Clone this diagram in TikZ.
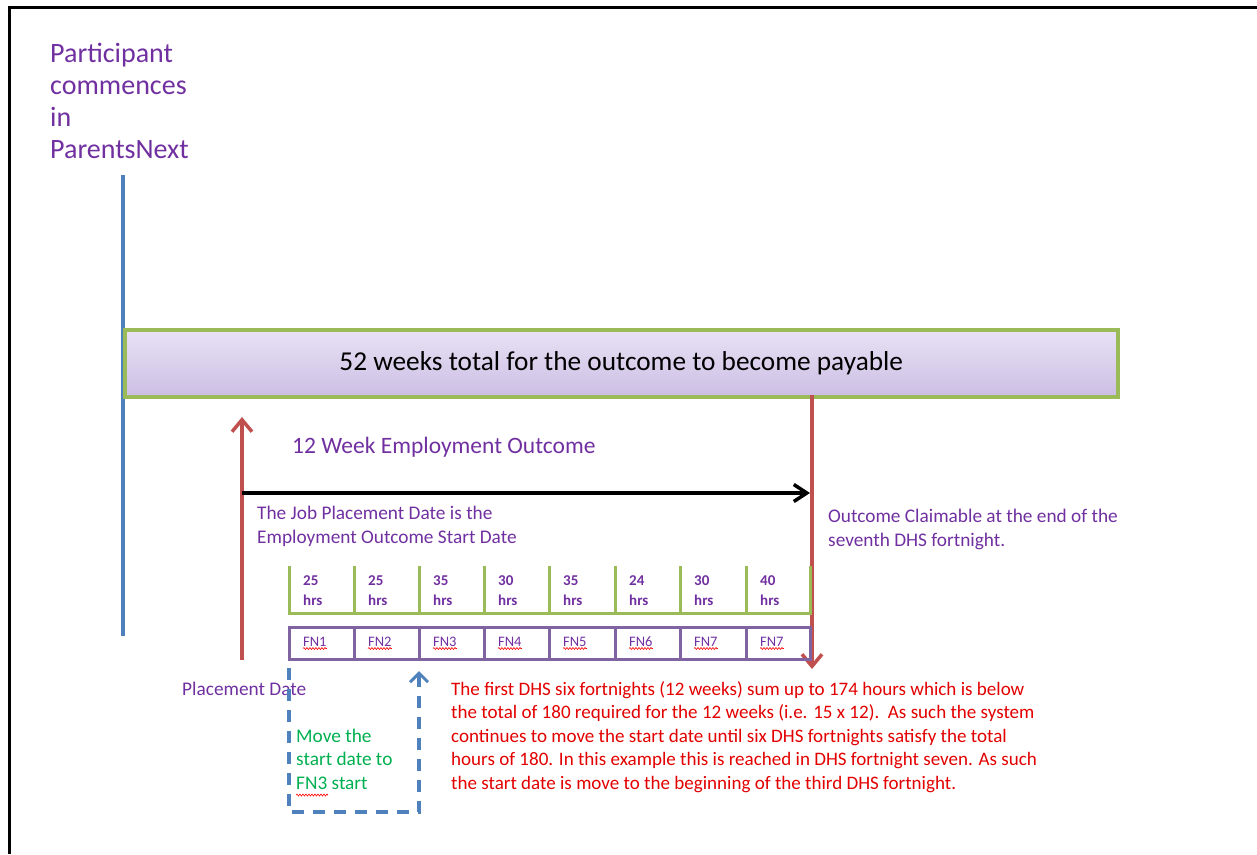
\documentclass[tikz,border=0pt]{standalone}
\usepackage{fontspec}
\setmainfont{Carlito}
\usetikzlibrary{arrows.meta,decorations.pathmorphing}
\definecolor{ppl}{RGB}{112,48,160}
\definecolor{redln}{RGB}{192,80,77}
\definecolor{blueln}{RGB}{79,129,189}
\definecolor{grn}{RGB}{155,187,89}
\definecolor{fnp}{RGB}{128,100,162}
\definecolor{txtgreen}{RGB}{0,176,80}
\definecolor{txtred}{RGB}{226,0,0}
\definecolor{bartop}{RGB}{232,226,244}
\definecolor{barbot}{RGB}{204,190,228}
\tikzset{
  lbl/.style={inner sep=0pt, anchor=base west, align=left},
  redarrow/.style={draw=redln, line width=3.5pt, -{Straight Barb[length=12pt,width=20pt,line width=3.5pt]}},
  blkarrow/.style={draw=black, line width=3.5pt, -{Straight Barb[length=13pt,width=17pt,line width=3.5pt]}},
  bluedash/.style={draw=blueln, line width=3.5pt, dash pattern=on 12pt off 9pt, -{Straight Barb[length=9pt,width=18pt,line width=3pt]}},
  spell/.style={draw=red, line width=0.6pt, decorate, decoration={snake, amplitude=1pt, segment length=3pt}},
  cellgrn/.style={draw=grn, line width=3pt},
  fnrow/.style={draw=fnp, line width=3pt},
}
\begin{document}
\begin{tikzpicture}[x=1pt,y=-1pt]
\useasboundingbox (0,0) rectangle (1257,854);
% frame
\draw[line width=3pt] (9,854) -- (9,7) -- (1257,7);
% participant text (base = last line)
\node[lbl, text=ppl, font=\fontsize{28}{32}\selectfont] (part) at (50,158) {Participant\\commences\\in\\ParentsNext};
% blue timeline
\coordinate (bl1) at (123,175);
\coordinate (bl2) at (123,636);
\draw[draw=blueln, line width=4pt] (bl1) -- (bl2);
% bar
\fill[gray!60] (126,331) rectangle (1119,398);
\node[draw=grn, line width=3.5pt, top color=bartop, bottom color=barbot, minimum width=993pt, minimum height=67pt, inner sep=0pt, anchor=north west,
  font=\fontsize{27.3}{30}\selectfont] (bar) at (123,328) {52 weeks total for the outcome to become payable};
% red arrows
\coordinate (upS) at (242,660);
\coordinate (upE) at (242,417);
\draw[redarrow] (upS) -- (upE);
\coordinate (dnS) at (812,395);
\coordinate (dnE) at (812,669);
\draw[redarrow] (dnS) -- (dnE);
% black arrow
\coordinate (bS) at (242,493);
\coordinate (bE) at (810,493);
\draw[blkarrow] (bS) -- (bE);
% labels
\node[lbl, text=ppl, font=\fontsize{23.5}{26}\selectfont] (twelve) at (292,453) {12 Week Employment Outcome};
\node[lbl, text=ppl, font=\fontsize{19.3}{24}\selectfont] (jobpl) at (257,543) {The Job Placement Date is the\\Employment Outcome Start Date};
\node[lbl, text=ppl, font=\fontsize{19.3}{24}\selectfont] (claim) at (828,546) {Outcome Claimable at the end of the\\seventh DHS fortnight.};
\node[lbl, text=ppl, font=\fontsize{19.3}{24}\selectfont] (placed) at (182,695) {Placement Date};
% cells
\foreach \xa/\xb/\h/\f [count=\i] in {289/354/25/FN1, 354/419/25/FN2, 419/484/35/FN3, 484/549/30/FN4, 549/615/35/FN5, 615/680/24/FN6, 680/746/30/FN7, 746/810/40/FN7}{
  \draw[cellgrn] (\xa,566) -- (\xa,613) -- (\xb,613) -- (\xb,566);
  \node[lbl, text=ppl, font=\fontsize{15}{16}\bfseries\selectfont] (h\i) at (\xa+14,585) {\h};
  \node[lbl, text=ppl, font=\fontsize{15}{16}\bfseries\selectfont] (hr\i) at (\xa+14,605) {hrs};
  \node[lbl, text=ppl, font=\fontsize{14.5}{16}\selectfont] (fn\i) at (\xa+14,646) {\f};
  \draw[spell] ([yshift=-2.5pt]fn\i.base west) -- ([yshift=-2.5pt]fn\i.base east);
  \draw[fnrow] (\xa,627) rectangle (\xb,659);
}
% blue dashed move arrow
\coordinate (m1) at (289,668);
\coordinate (m2) at (289,812);
\coordinate (m3) at (419,812);
\coordinate (m4) at (419,671);
\draw[bluedash] (m1) -- (m2) -- (m3) -- (m4);
\node[lbl, text=txtgreen, font=\fontsize{19.3}{23.5}\selectfont] (move) at (296,789) {Move the\\start date to\\FN3 start};
\draw[spell] (296,795) -- (328,795);
% red paragraph
\node[lbl, text=txtred, font=\fontsize{19.05}{23.5}\selectfont] (para) at (451,789) {The first DHS six fortnights (12 weeks) sum up to 174 hours which is below\\the total of 180 required for the 12 weeks (i.e. 15 x 12).\ \ As such the system\\continues to move the start date until six DHS fortnights satisfy the total\\hours of 180. In this example this is reached in DHS fortnight seven. As such\\the start date is move to the beginning of the third DHS fortnight.};
\end{tikzpicture}
\end{document}
